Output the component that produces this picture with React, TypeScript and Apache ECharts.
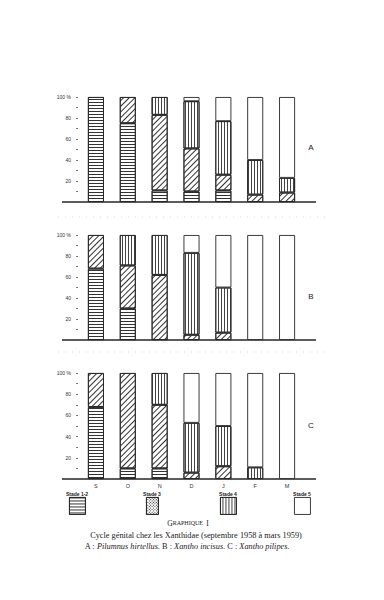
import React, { useEffect, useRef } from "react";
import * as echarts from "echarts";

const months = ["S", "O", "N", "D", "J", "F", "M"];
const stageNames = ["Stade 1-2", "Stade 3", "Stade 4", "Stade 5"];
const yTicks = [20, 40, 60, 80, 100];
const panelLetters = ["A", "B", "C"];

// Panel A : Pilumnus hirtellus
const aStage12 = [100, 75, 11, 10, 11, 0, 0];
const aStage3 = [0, 25, 72, 41, 15, 7, 9];
const aStage4 = [0, 0, 17, 45, 51, 33, 14];
const aStage5 = [0, 0, 0, 4, 23, 60, 77];
// Panel B : Xantho incisus
const bStage12 = [68, 30, 0, 0, 0, 0, 0];
const bStage3 = [32, 41, 62, 5, 7, 0, 0];
const bStage4 = [0, 29, 38, 78, 43, 0, 0];
const bStage5 = [0, 0, 0, 17, 50, 100, 100];
// Panel C : Xantho pilipes
const cStage12 = [68, 10, 10, 0, 0, 0, 0];
const cStage3 = [32, 90, 60, 6, 12, 0, 0];
const cStage4 = [0, 0, 30, 47, 38, 11, 0];
const cStage5 = [0, 0, 0, 47, 50, 89, 100];

const panels = [
  [aStage12, aStage3, aStage4, aStage5],
  [bStage12, bStage3, bStage4, bStage5],
  [cStage12, cStage3, cStage4, cStage5],
];

const INK = "#262626";

const decals: any[] = [
  { symbol: "rect", symbolSize: 1, color: "#333", backgroundColor: "#fff", dashArrayX: [1, 0], dashArrayY: [1, 2], rotation: 0 },
  { symbol: "rect", symbolSize: 1, color: "#333", backgroundColor: "#fff", dashArrayX: [1, 0], dashArrayY: [0.9, 2.6], rotation: -Math.PI / 4 },
  { symbol: "rect", symbolSize: 1, color: "#444", backgroundColor: "#e2e2e2", dashArrayX: [1, 0], dashArrayY: [1, 1.6], rotation: Math.PI / 2 },
  null,
];

const legendDecals: any[] = [
  decals[0],
  { symbol: "rect", symbolSize: 1, color: "#333", backgroundColor: "#fff", dashArrayX: [1, 1], dashArrayY: [1, 1], rotation: Math.PI / 4 },
  decals[2],
  null,
];

const gridTops = [97, 235, 373];
const gridH = [105, 105, 106];
const legendLefts = [69, 146, 220, 294];
const legendWidths = [16, 12, 16, 16];

export default function App() {
  const ref = useRef<HTMLDivElement>(null);
  useEffect(() => {
    if (!ref.current) return;
    const chart = echarts.init(ref.current, null, { renderer: "svg" });
    const grids = gridTops.map((t, i) => ({ left: 80, width: 223, top: t, height: gridH[i] }));
    const xAxes = panels.map((_, i) => ({
      type: "category",
      gridIndex: i,
      data: months,
      axisLine: { show: false },
      axisTick: { show: false },
      axisLabel: {
        show: i === 2,
        fontSize: 5.5,
        margin: 4,
        color: "#333",
        fontFamily: "Liberation Sans",
      },
    }));
    const yAxes = panels.map((_, i) => ({
      type: "value",
      gridIndex: i,
      min: 0,
      max: 100,
      interval: 10,
      offset: 2,
      axisLine: { show: false },
      splitLine: { show: false },
      axisTick: { show: true, length: 2, lineStyle: { color: "#555", width: 0.8 } },
      axisLabel: {
        fontSize: 5,
        margin: 7,
        color: "#333",
        fontFamily: "Liberation Sans",
        formatter: (v: number) => (v === 100 ? "100 %" : yTicks.indexOf(v) >= 0 ? String(v) : ""),
      },
    }));
    const series: any[] = [];
    panels.forEach((stages, p) => {
      stages.forEach((vals, s) => {
        const style: any = { color: "#fff", borderColor: INK, borderWidth: 0.9 };
        if (decals[s]) style.decal = decals[s];
        series.push({
          type: "bar",
          name: stageNames[s],
          xAxisIndex: p,
          yAxisIndex: p,
          stack: "p" + p,
          barWidth: 16,
          data: vals.map((v) => (v === 0 ? "-" : v)),
          itemStyle: style,
          emphasis: { disabled: true },
        });
      });
    });
    const legends = stageNames.map((n, s) => {
      const st: any = { color: "#fff", borderColor: INK, borderWidth: 0.9 };
      st.decal = legendDecals[s] ? legendDecals[s] : "none";
      return {
        data: [{ name: n, icon: "rect", itemStyle: st }],
        left: legendLefts[s],
        top: 497,
        itemWidth: legendWidths[s],
        itemHeight: 17,
        padding: 0,
        selectedMode: false,
        formatter: () => "",
        textStyle: { fontSize: 1 },
      };
    });
    const graphic: any[] = [];
    const baselines = gridTops.map((t, i) => t + gridH[i]);
    baselines.forEach((y) => {
      graphic.push({ type: "line", shape: { x1: 62, y1: y, x2: 316, y2: y }, style: { stroke: INK, lineWidth: 1.3 } });
    });
    [217, 352].forEach((y) => {
      graphic.push({ type: "line", shape: { x1: 58, y1: y, x2: 330, y2: y }, style: { stroke: "#cfcfcf", lineWidth: 0.8, lineDash: [1, 6] } });
    });
    const letterY = [147, 296, 425];
    panelLetters.forEach((l, i) => {
      graphic.push({ type: "text", x: 311, y: letterY[i], style: { text: l, fontSize: 8, fontFamily: "Liberation Sans", fill: "#222", align: "center", verticalAlign: "middle" } });
    });
    stageNames.forEach((n, s) => {
      graphic.push({
        type: "text",
        x: legendLefts[s] + legendWidths[s] / 2,
        y: 494,
        style: { text: n, fontSize: 5, fontWeight: "bold", fontFamily: "Liberation Sans", fill: "#222", align: "center", verticalAlign: "middle" },
      });
    });
    graphic.push({
      type: "text",
      x: 188,
      y: 523,
      style: {
        text: "{a|G}{b|RAPHIQUE} {a|I}",
        align: "center",
        verticalAlign: "middle",
        rich: {
          a: { fontSize: 7.5, fontFamily: "Liberation Serif", fill: "#222" },
          b: { fontSize: 6, fontFamily: "Liberation Serif", fill: "#222" },
        },
      },
    });
    graphic.push({
      type: "text",
      x: 196,
      y: 535,
      style: { text: "Cycle génital chez les Xanthidae (septembre 1958 à mars 1959)", fontSize: 8.3, fontFamily: "Liberation Serif", fill: "#222", align: "center", verticalAlign: "middle" },
    });
    graphic.push({
      type: "text",
      x: 187,
      y: 546,
      style: {
        text: "{n|A : }{i|Pilumnus hirtellus.}{n| B : }{i|Xantho incisus.}{n| C : }{i|Xantho pilipes.}",
        align: "center",
        verticalAlign: "middle",
        rich: {
          n: { fontSize: 8.3, fontFamily: "Liberation Serif", fill: "#222" },
          i: { fontSize: 8.3, fontFamily: "Liberation Serif", fontStyle: "italic", fill: "#222" },
        },
      },
    });
    chart.setOption({
      animation: false,
      backgroundColor: "#fff",
      grid: grids,
      xAxis: xAxes,
      yAxis: yAxes,
      legend: legends,
      series,
      graphic,
    });
    return () => chart.dispose();
  }, []);
  return (
    <div
      ref={ref}
      style={{ position: "fixed", left: 0, top: 0, width: 384, height: 600 }}
    />
  );
}
